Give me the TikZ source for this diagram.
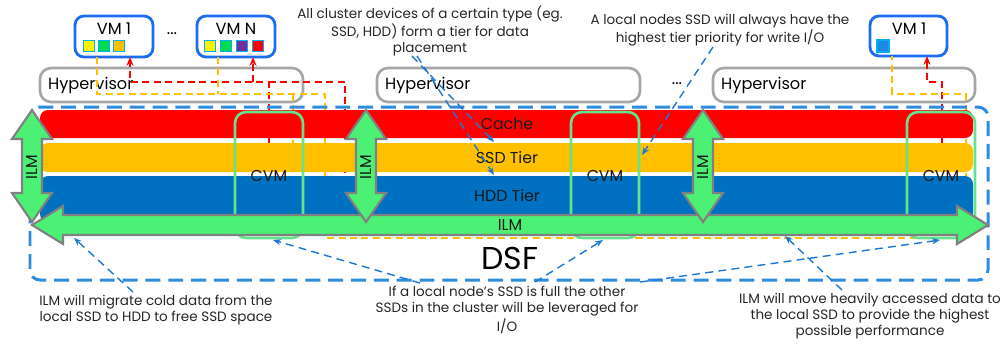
\documentclass[tikz,border=0pt]{standalone}
\usepackage{fontspec}
\setmainfont{Poppins}
\usetikzlibrary{arrows.meta}

\definecolor{cachered}{RGB}{255,0,0}
\definecolor{ssdorange}{RGB}{255,192,0}
\definecolor{hddblue}{RGB}{0,112,192}
\definecolor{ilmgreen}{RGB}{76,240,117}
\definecolor{cvmgreen}{RGB}{102,226,140}
\definecolor{vmblue}{RGB}{28,108,240}
\definecolor{hypgray}{RGB}{166,166,166}
\definecolor{noteblue}{RGB}{30,120,210}
\definecolor{dsfblue}{RGB}{45,140,220}
\definecolor{slotedge}{RGB}{0,176,240}
\definecolor{slotgreen}{RGB}{0,220,80}
\definecolor{slotpurple}{RGB}{112,48,160}
\definecolor{slotsky}{RGB}{30,136,229}

\begin{document}
\begin{tikzpicture}[x=0.02cm,y=-0.02cm,
  note/.style={font=\fontsize{7.7}{9.1}\selectfont, align=center, text=black!85},
  notearrow/.style={draw=noteblue, line width=0.8pt, dash pattern=on 4.5pt off 3pt, -{Stealth[length=4.5pt,width=3.5pt]}},
  redpath/.style={draw=cachered, line width=0.9pt, dash pattern=on 4pt off 2.5pt},
  orangepath/.style={draw=ssdorange, line width=0.9pt, dash pattern=on 4pt off 2.5pt},
  vmbox/.style={draw=vmblue, line width=1.6pt, rounded corners=0.18cm, fill=white},
  hypbox/.style={draw=hypgray, line width=1.5pt, rounded corners=0.22cm, fill=white},
  cvmbox/.style={draw=cvmgreen, line width=1.5pt, rounded corners=0.22cm},
  ilmarrow/.style={fill=ilmgreen, draw=gray, line width=1.2pt, line join=miter},
  boxtext/.style={font=\fontsize{9.2}{11}\selectfont},
  bartext/.style={font=\fontsize{9}{11}\selectfont, text=black!90},
  slot/.style={draw=slotedge, line width=0.6pt, minimum size=0.21cm, inner sep=0pt}]
  \useasboundingbox (0,0) rectangle (1003,343);

  % hosts
  \draw[hypbox] (40,68) rectangle (303,102);
  \draw[hypbox] (377,68) rectangle (640,102);
  \draw[hypbox] (713,68) rectangle (975,102);
  \draw[vmbox] (75,16) rectangle (153,57);
  \draw[vmbox] (197,16) rectangle (275,57);
  \draw[vmbox] (870,16) rectangle (947,56);

  \node[boxtext, anchor=west] (hypone) at (42,85) {Hypervisor};
  \node[boxtext, anchor=west] (hyptwo) at (379,85) {Hypervisor};
  \node[boxtext, anchor=west] (hypthree) at (715,85) {Hypervisor};
  \node[boxtext] (vmone) at (114,29) {VM 1};
  \node[boxtext] (vmn) at (236,29) {VM N};
  \node[boxtext] (vmright) at (909,29) {VM 1};
  \node[boxtext] (dotsvm) at (172,34) {...};
  \node[boxtext] (dotshyp) at (677,84) {...};

  \foreach \i/\c in {0/yellow,1/slotgreen,2/ssdorange}
    \node[slot, fill=\c] (slotone\i) at (89+15*\i,46) {};
  \foreach \i/\c in {0/yellow,1/slotgreen,2/slotpurple,3/cachered}
    \node[slot, fill=\c] (slotn\i) at (210+16*\i,46) {};
  \node[slot, fill=slotsky, minimum size=0.24cm] (slotright) at (883,46) {};

  % I/O paths
  \coordinate (redone) at (130,57);
  \coordinate (redn) at (253,57);
  \coordinate (redright) at (927,56);
  \draw[redpath, -{Stealth[length=5pt,width=4pt]}] (269,145) -- (269,82) -- (130,82) -- (redone);
  \draw[redpath] (269,82) -- (345,82) -- (345,176);
  \draw[redpath, -{Stealth[length=5pt,width=4pt]}] (253,82) -- (redn);
  \draw[redpath, -{Stealth[length=5pt,width=4pt]}] (942,145) -- (942,82) -- (927,82) -- (redright);
  \draw[orangepath] (97,57) -- (97,94) -- (325,94) -- (325,238) -- (966,238) -- (966,94) -- (892,94) -- (892,56);
  \draw[orangepath] (218,57) -- (218,94);
  \draw[orangepath] (293,94) -- (293,145);

  % tiers
  \fill[cachered, rounded corners=0.16cm] (40,110) rectangle (973,138);
  \fill[ssdorange, rounded corners=0.16cm] (40,143) rectangle (973,172);
  \fill[hddblue, rounded corners=0.16cm] (40,176) rectangle (973,222);
  \node[bartext] (cache) at (507,124) {Cache};
  \node[bartext] (ssdtier) at (507,158) {SSD Tier};
  \node[bartext] (hddtier) at (507,196) {HDD Tier};

  \draw[dsfblue, line width=1.7pt, dash pattern=on 8.5pt off 4.5pt, rounded corners=0.2cm] (30,107) rectangle (988,280);
  \node[font=\fontsize{18}{20}\selectfont] (dsf) at (510,258) {DSF};

  \foreach \cx/\nm in {269/cvmone,605/cvmtwo,941/cvmthree}{
    \draw[cvmbox] (\cx-34,112) rectangle (\cx+34,238);
    \node[bartext] (\nm) at (\cx,176) {CVM};
  }

  % ILM
  \draw[ilmarrow] (32,225) -- (63,206) -- (63,215) -- (957,215) -- (957,206) -- (988,225)
    -- (957,244) -- (957,235) -- (63,235) -- (63,244) -- cycle;
  \node[bartext] (ilmbottom) at (510,225) {ILM};
  \foreach \cx/\nm in {32/ilmleft,366/ilmmid,703/ilmright}{
    \draw[ilmarrow] (\cx,110) -- (\cx+20,139) -- (\cx+10,139) -- (\cx+10,193) -- (\cx+20,193)
      -- (\cx,222) -- (\cx-20,193) -- (\cx-10,193) -- (\cx-10,139) -- (\cx-20,139) -- cycle;
    \node[bartext, rotate=90] (\nm) at (\cx,167) {ILM};
  }

  % notes
  \node[note] (tiernote) at (430,31) {All cluster devices of a certain type (eg.\\SSD, HDD) form a tier for data\\placement};
  \node[note] (localnote) at (720,30) {A local nodes SSD will always have the\\highest tier priority for write I/O};
  \node[note] (migratenote) at (156,310) {ILM will migrate cold data from the\\local SSD to HDD to free SSD space};
  \node[note] (fullnote) at (507,310) {If a local node's SSD is full the other\\SSDs in the cluster will be leveraged for\\I/O};
  \node[note] (movenote) at (870,316) {ILM will move heavily accessed data to\\the local SSD to provide the highest\\possible performance};

  \coordinate (tierfroma) at (412,56);
  \coordinate (tierfromb) at (417,56);
  \coordinate (localfrom) at (713,47);
  \coordinate (migratefrom) at (133,292);
  \coordinate (fullfroma) at (420,283);
  \coordinate (fullfromb) at (535,282);
  \coordinate (fullfromc) at (640,282);
  \coordinate (movefrom) at (842,290);
  \draw[notearrow] (tierfroma) -- (494,142);
  \draw[notearrow] (tierfromb) -- (494,175);
  \draw[notearrow] (localfrom) -- (642,155);
  \draw[notearrow] (migratefrom) -- (74,238);
  \draw[notearrow] (fullfroma) -- (273,240);
  \draw[notearrow] (fullfromb) -- (603,240);
  \draw[notearrow] (fullfromc) -- (940,240);
  \draw[notearrow] (movefrom) -- (785,236);
\end{tikzpicture}
\end{document}
